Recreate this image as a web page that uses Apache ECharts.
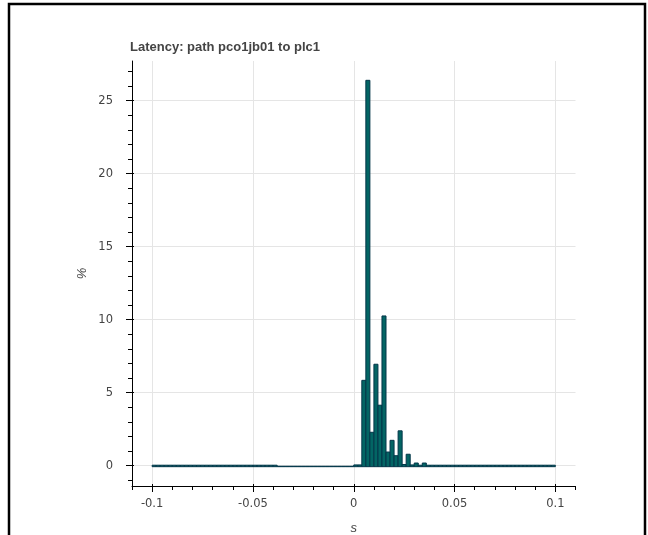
<!DOCTYPE html>
<html lang="en">

<head>
  <meta charset="UTF-8">
  <meta name="viewport" content="width=device-width, initial-scale=1.0">
  <title>Latency</title>
  <style>
    html {
      width: 100%;
      height: 100%;
    }

    body {
      margin: 0;
      height: 100%;
      width: 100%;
      background: #fff;
    }

    .chart {
      width: 648px;
      height: 535px;
    }
  </style>
</head>

<body>
  <div id="chart" class="chart"></div>

  <script src="https://cdn.jsdelivr.net/npm/echarts@6/dist/echarts.min.js"></script>
  <script>
    var myChart = echarts.init(document.getElementById('chart'));

    // histogram bins: 100 bins of 0.002 s from -0.1 to 0.1
    var binStart = -0.1;
    var binWidth = 0.002;
    var percent = [
      0.1, 0.1, 0.1, 0.1, 0.1, 0.1, 0.1, 0.1, 0.1, 0.1,
      0.1, 0.1, 0.1, 0.1, 0.1, 0.1, 0.1, 0.1, 0.1, 0.1,
      0.1, 0.1, 0.1, 0.1, 0.1, 0.1, 0.1, 0.1, 0.1, 0.1,
      0.1, 0.03, 0.03, 0.03, 0.03, 0.03, 0.03, 0.03, 0.03, 0.03,
      0.03, 0.03, 0.03, 0.03, 0.03, 0.03, 0.03, 0.03, 0.03, 0.03,
      0.12, 0.12, 5.9, 26.4, 2.35, 7.0, 4.2, 10.3, 1.0, 1.8,
      0.75, 2.45, 0.15, 0.85, 0.12, 0.25, 0.1, 0.25, 0.1, 0.1,
      0.1, 0.1, 0.1, 0.1, 0.1, 0.1, 0.1, 0.1, 0.1, 0.1,
      0.1, 0.1, 0.1, 0.1, 0.1, 0.1, 0.1, 0.1, 0.1, 0.1,
      0.1, 0.1, 0.1, 0.1, 0.1, 0.1, 0.1, 0.1, 0.1, 0.1
    ];

    // axis ranges (bokeh style padding)
    var xRange = [-0.11, 0.11];
    var yRange = [-1.32, 27.72];

    var titleText = 'Latency: path pco1jb01 to plc1';
    var xName = 's';
    var yName = '%';

    var binData = [];
    for (var i = 0; i < percent.length; i++) {
      var left = binStart + i * binWidth;
      binData.push([left, left + binWidth, percent[i]]);
    }

    var labelColor = '#444';
    var gridColor = '#e5e5e5';
    var font = 'Liberation Sans, Arial, sans-serif';
    var tickFont = 'DejaVu Sans, sans-serif';

    function hiddenAxis(gridIndex) {
      return { type: 'value', gridIndex: gridIndex, show: false, min: 0, max: 1 };
    }

    var option = {
      animation: false,
      title: {
        text: titleText,
        left: 130,
        top: 41,
        padding: 0,
        textStyle: {
          fontFamily: font,
          fontSize: 13,
          fontWeight: 'bold',
          color: labelColor
        }
      },
      graphic: [{
        // outer frame
        type: 'polyline',
        shape: { points: [[9, 540], [9, 4], [645, 4], [645, 540]] },
        style: { stroke: '#000', lineWidth: 2.5, fill: null }
      }],
      grid: [
        { left: 132, right: 72.5, top: 61, bottom: 49, outerBoundsMode: 'none' },     // data + minor x ticks
        { left: 152.1, right: 92.6, top: 61, bottom: 49, outerBoundsMode: 'none' },   // major x ticks
        { left: 132, right: 72.5, top: 100.7, bottom: 69.3, outerBoundsMode: 'none' }, // major y ticks
        { left: 132, right: 72.5, top: 71.5, bottom: 54.7, outerBoundsMode: 'none' }   // minor y ticks
      ],
      xAxis: [{
        type: 'value',
        gridIndex: 0,
        min: xRange[0],
        max: xRange[1],
        interval: 0.01,
        name: xName,
        nameLocation: 'middle',
        nameGap: 36,
        nameTextStyle: { fontFamily: font, fontSize: 13, fontStyle: 'italic', color: labelColor },
        axisLine: { onZero: false, lineStyle: { color: '#000', width: 1 } },
        axisTick: { length: 4, lineStyle: { color: '#000' } },
        axisLabel: { show: false },
        splitLine: { show: false }
      }, {
        type: 'value',
        gridIndex: 1,
        min: -0.1,
        max: 0.1,
        interval: 0.05,
        axisLine: { show: false },
        axisTick: { length: 6, lineStyle: { color: '#000' } },
        axisLabel: { margin: 12, fontFamily: tickFont, fontSize: 11.5, color: labelColor },
        splitLine: { lineStyle: { color: gridColor, width: 1 } }
      }, {
        type: 'value',
        gridIndex: 1,
        position: 'bottom',
        min: -0.1,
        max: 0.1,
        interval: 0.05,
        axisLine: { show: false },
        axisTick: { inside: true, length: 2, lineStyle: { color: '#000' } },
        axisLabel: { show: false },
        splitLine: { show: false }
      },
      hiddenAxis(2),
      hiddenAxis(3)
      ],
      yAxis: [{
        type: 'value',
        gridIndex: 0,
        min: yRange[0],
        max: yRange[1],
        name: yName,
        nameLocation: 'middle',
        nameGap: 43,
        nameRotate: 90,
        nameTextStyle: { fontFamily: font, fontSize: 13, fontStyle: 'italic', color: labelColor },
        axisLine: { show: true, onZero: false, lineStyle: { color: '#000', width: 1 } },
        axisTick: { show: false },
        axisLabel: { show: false },
        splitLine: { show: false }
      },
      hiddenAxis(1),
      {
        type: 'value',
        gridIndex: 2,
        min: 0,
        max: 25,
        interval: 5,
        axisLine: { show: false },
        axisTick: { show: true, length: 6, lineStyle: { color: '#000' } },
        axisLabel: { margin: 19, fontFamily: tickFont, fontSize: 11.5, color: labelColor },
        splitLine: { lineStyle: { color: gridColor, width: 1 } }
      }, {
        type: 'value',
        gridIndex: 2,
        position: 'left',
        min: 0,
        max: 25,
        interval: 5,
        axisLine: { show: false },
        axisTick: { show: true, inside: true, length: 2, lineStyle: { color: '#000' } },
        axisLabel: { show: false },
        splitLine: { show: false }
      }, {
        type: 'value',
        gridIndex: 3,
        min: -1,
        max: 27,
        interval: 1,
        axisLine: { show: false },
        axisTick: { show: true, length: 4, lineStyle: { color: '#000' } },
        axisLabel: { show: false },
        splitLine: { show: false }
      }],
      series: [{
        type: 'custom',
        xAxisIndex: 0,
        yAxisIndex: 0,
        data: binData,
        encode: { x: [0, 1], y: 2 },
        renderItem: function (params, api) {
          var p0 = api.coord([api.value(0), 0]);
          var p1 = api.coord([api.value(1), api.value(2)]);
          return {
            type: 'rect',
            shape: { x: p0[0], y: p1[1], width: p1[0] - p0[0], height: p0[1] - p1[1] },
            style: { fill: '#036564', stroke: '#033649', lineWidth: 1 }
          };
        }
      }]
    };

    myChart.setOption(option);

    window.addEventListener('resize', function () {
      myChart.resize();
    });
  </script>
</body>

</html>
